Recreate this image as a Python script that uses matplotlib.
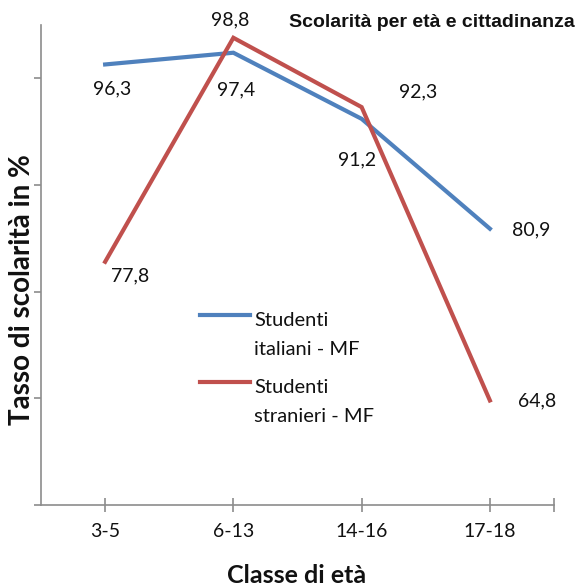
import matplotlib
matplotlib.use("Agg")
import matplotlib.pyplot as plt

categories = ["3-5", "6-13", "14-16", "17-18"]
italiani = [96.3, 97.4, 91.2, 80.9]
stranieri = [77.8, 98.8, 92.3, 64.8]
series_names = [("Studenti", "italiani - MF"), ("Studenti", "stranieri - MF")]
title = "Scolarità per età e cittadinanza"
ylabel = "Tasso di scolarità in %"
xlabel = "Classe di età"

BLUE = "#4F81BD"
RED = "#C0504D"
AXIS = "#8C8C8C"
TEXT = "#111111"
FONT = ["Lato", "DejaVu Sans"]

fig = plt.figure(figsize=(5.8, 5.88), dpi=100)
ax = fig.add_axes([0.0707, 0.1412, 0.8845, 0.8163])

x = list(range(len(categories)))
ax.plot(x, italiani, color=BLUE, lw=3.0, solid_joinstyle="miter", zorder=3)
ax.plot(x, stranieri, color=RED, lw=3.0, solid_joinstyle="miter", zorder=4)

ax.set_xlim(-0.5, 3.5)
ax.set_ylim(55, 100)

# data labels (offsets in points)
lab_font = dict(fontsize=14, family=FONT, color=TEXT, ha="center", va="center")
it_off = [(5, -17.5), (2, -27), (-3.6, -29.5), (30, -1)]
st_off = [(18, -10), (-2, 13), (41, 11), (34, 0)]
for xi, v, off in zip(x, italiani, it_off):
    ax.annotate(f"{v:.1f}".replace(".", ","), (xi, v), xytext=off,
                textcoords="offset points", **lab_font)
for xi, v, off in zip(x, stranieri, st_off):
    ax.annotate(f"{v:.1f}".replace(".", ","), (xi, v), xytext=off,
                textcoords="offset points", **lab_font)

# axes styling
for s in ("top", "right"):
    ax.spines[s].set_visible(False)
for s in ("left", "bottom"):
    ax.spines[s].set_color(AXIS)
    ax.spines[s].set_linewidth(1.2)

ax.set_yticks([55, 65, 75, 85, 95])
ax.set_yticklabels([])
ax.tick_params(axis="y", direction="out", length=5, width=1.2, color=AXIS)

ax.set_xticks(x + [3.5])
ax.set_xticklabels(categories + [""], fontsize=14, family=FONT, color=TEXT)
ax.tick_params(axis="x", direction="inout", length=10, width=1.2, color=AXIS, pad=8)

# axis titles
fig.text(0.512, 0.0085, xlabel, fontsize=18, fontweight="bold", family=FONT,
         color=TEXT, ha="center", va="baseline")
fig.text(0.038, 0.507, ylabel, rotation=90, fontsize=20, fontweight="bold",
         family=FONT, color=TEXT, ha="center", va="center")

fig.text(0.991, 0.961, title, fontsize=14, fontweight="bold",
         family=["Liberation Sans", "DejaVu Sans"], color=TEXT,
         ha="right", va="center")

# legend keys
legend_rows = [(0.4643, BLUE, series_names[0], (0.4456, 0.3963)),
               (0.3503, RED, series_names[1], (0.3316, 0.2823))]
for y_line, color, lines, baselines in legend_rows:
    fig.add_artist(plt.Line2D([0.345, 0.431], [y_line, y_line], color=color, lw=3.0))
    for txt, yb in zip(lines, baselines):
        fig.text(0.438, yb, txt, fontsize=14.5, family=FONT, color=TEXT,
                 ha="left", va="baseline")

fig.savefig("out.png", dpi=100)
